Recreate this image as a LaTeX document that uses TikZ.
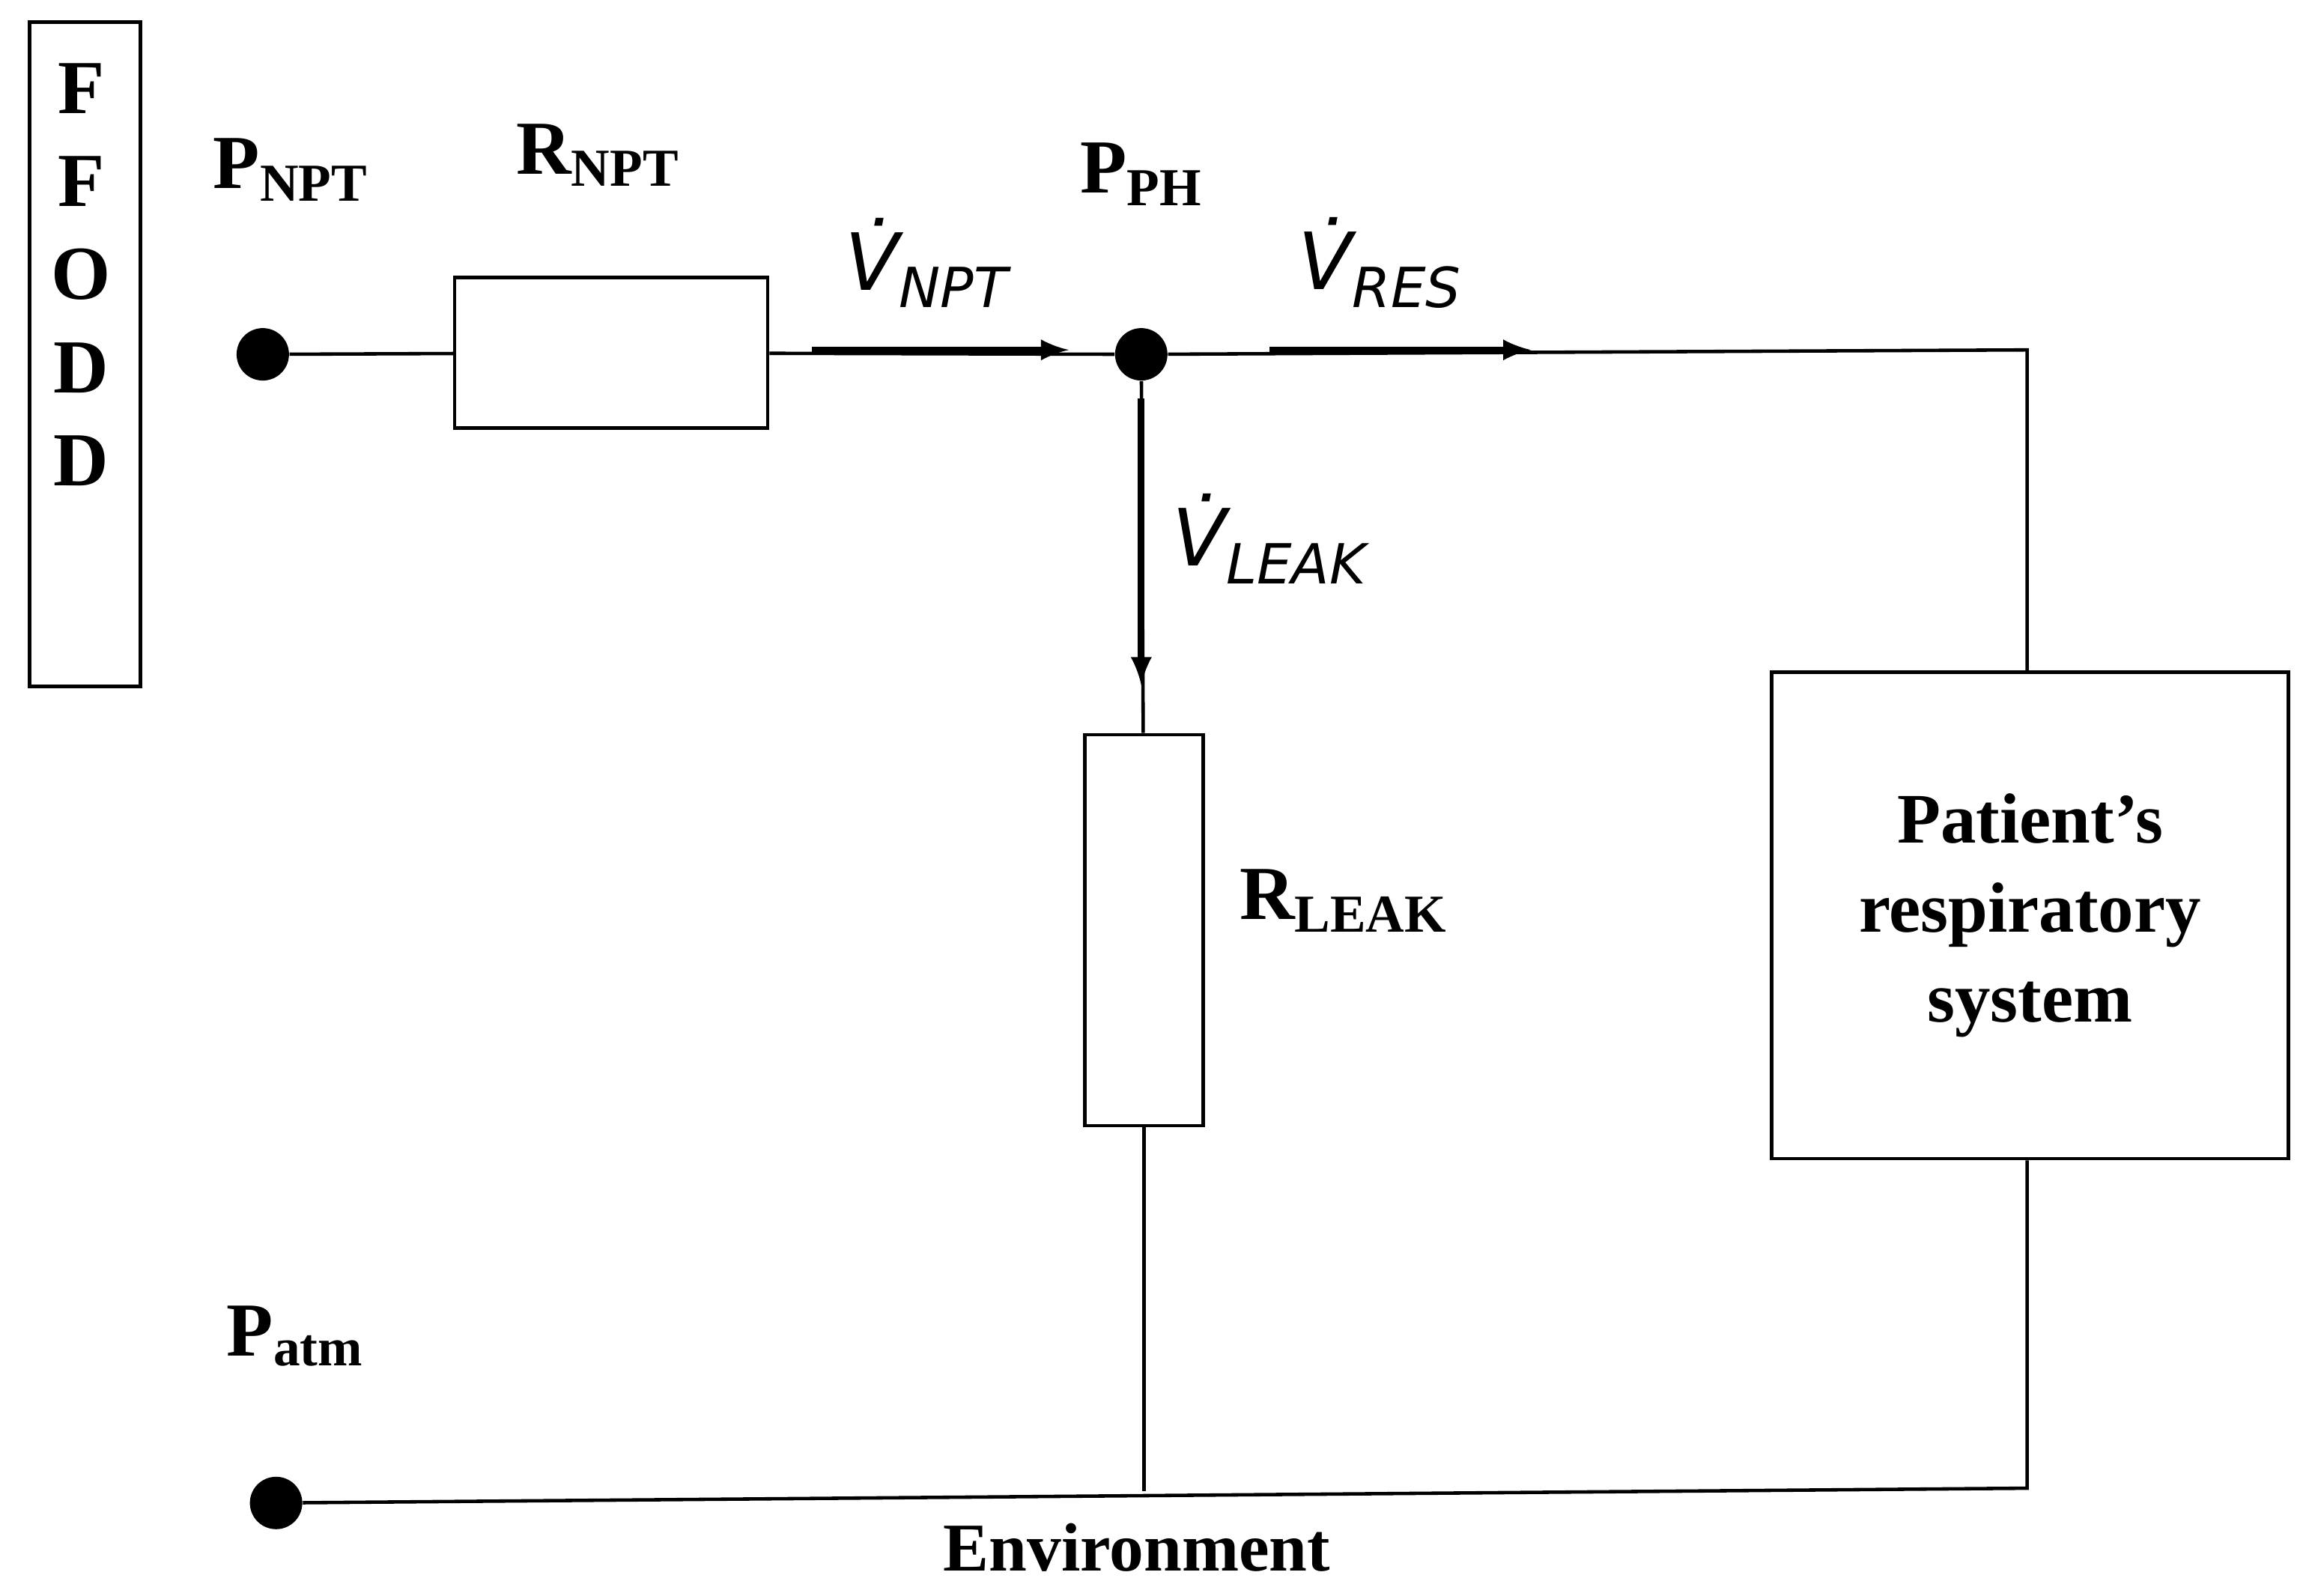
\documentclass[tikz,border=0pt]{standalone}
\usepackage{fontspec}
\setmainfont{Liberation Serif}
\newfontfamily\mathlike{DejaVu Sans}
\begin{document}
\begin{tikzpicture}[x=0.01971cm,y=-0.01971cm]
        \tikzstyle{block}=[draw, line width=1.3pt, fill=white, inner sep=0pt]
        \tikzstyle{dot}=[circle, fill=black, minimum size=0.7cm, inner sep=0pt]
        \tikzstyle{lbl}=[font=\fontsize{29}{30}\selectfont\bfseries]
        \tikzstyle{flow}=[line width=2.6pt, -latex]
        \tikzstyle{vlbl}=[font=\fontsize{30}{32}\selectfont\mathlike\itshape]
        \useasboundingbox (0,0) rectangle (1568,1081);

        % FFODD box
        \node[block, minimum width=1.48cm, minimum height=8.87cm] (ffodd) at (57.5,240) {};
        \foreach \l [count=\i] in {F,F,O,D,D} {
            \node[lbl] at (55,-3+63*\i) {\l};
        }

        % Nodes
        \node[dot] (pnpt) at (178,240) {};
        \node[dot] (pph) at (773,240) {};
        \node[dot] (patm) at (187,1018) {};
        \node[block, minimum width=4.18cm, minimum height=2.01cm] (rnpt) at (414,239) {};
        \node[block, minimum width=1.58cm, minimum height=5.22cm] (rleak) at (775,630) {};
        \node[block, minimum width=6.9cm, minimum height=6.5cm, align=center,
              font=\fontsize{27}{34}\selectfont\bfseries] (pat) at (1375,620) {Patient’s\\respiratory\\system};
        \coordinate (tr) at (1373,237);
        \coordinate (br) at (1373,1008);
        \coordinate (bm) at (775,1010);

        % Wires
        \draw[line width=1.3pt] (pnpt) -- (rnpt);
        \draw[line width=1.3pt] (rnpt) -- (pph);
        \draw[line width=1.3pt] (pph) -- (tr) -- (pat.north -| tr);
        \draw[line width=1.3pt] (pph) -- (rleak);
        \draw[line width=1.3pt] (rleak) -- (bm);
        \draw[line width=1.3pt] (patm) -- (br) -- (pat.south -| br);

        % Flows
        \draw[flow] (550,237) -- (724,237);
        \draw[flow] (860,237) -- (1037,237);
        \draw[flow] (773,270) -- (773,464);

        % Labels
        \node[lbl] at (197,115) {P\textsubscript{NPT}};
        \node[lbl] at (405,105) {R\textsubscript{NPT}};
        \node[lbl] at (773,118) {P\textsubscript{PH}};
        \node[lbl] at (910,610) {R\textsubscript{LEAK}};
        \node[lbl] at (200,905) {P\textsubscript{atm}};
        \node[font=\fontsize{26}{28}\selectfont\bfseries] at (770,1048) {Environment};
        \node[vlbl] at (628,178) {V̇\textsubscript{NPT}};
        \node[vlbl] at (935,178) {V̇\textsubscript{RES}};
        \node[vlbl] at (860,365) {V̇\textsubscript{LEAK}};
\end{tikzpicture}
\end{document}
